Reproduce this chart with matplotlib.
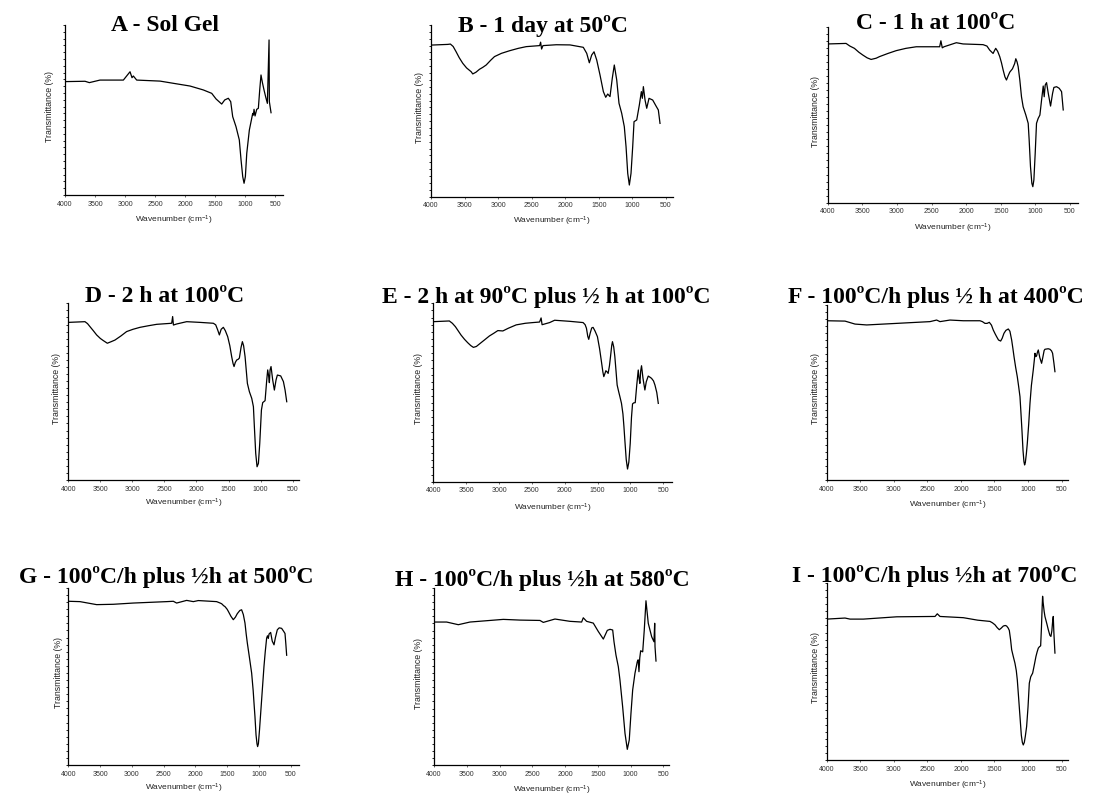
import matplotlib
matplotlib.use('Agg')
import matplotlib.pyplot as plt
from matplotlib.ticker import MultipleLocator


###############################
# Data (wavenumber, transmittance in % of axis height)
###############################
wn_a = [4000, 3667, 3595, 3418, 3029, 2918, 2885, 2863, 2807, 2419, 2197, 1920, 1699, 1559,
        1487, 1393, 1343, 1283, 1243, 1210, 1155, 1100, 1071, 1043, 1021, 999, 976, 933, 877,
        865, 855, 838, 810, 783, 760, 739, 715, 689, 660, 633, 605, 600, 572]
tr_a = [66.7, 66.9, 66.1, 67.6, 67.6, 72.5, 69.0, 70.0, 67.6, 67.0, 65.7, 64.1, 61.8, 59.8,
        56.5, 53.5, 55.9, 56.9, 54.9, 46.1, 40.2, 32.4, 20.6, 10.8, 6.9, 10.8, 24.5, 38.2, 48.0,
        47.0, 50.4, 46.5, 50.4, 51.0, 62.0, 70.6, 66.0, 61.8, 57.5, 53.9, 91.2, 54.9, 48.4]

wn_b = [4000, 3751, 3711, 3670, 3627, 3580, 3527, 3470, 3402, 3378, 3330, 3278, 3230, 3178,
        3110, 3054, 2950, 2830, 2700, 2581, 2381, 2367, 2352, 2332, 2133, 1929, 1731, 1680,
        1641, 1606, 1571, 1531, 1482, 1432, 1397, 1367, 1333, 1299, 1269, 1233, 1199, 1159,
        1120, 1094, 1069, 1045, 1020, 995, 975, 935, 896, 866, 851, 836, 811, 786, 752, 697,
        647, 613, 588]
tr_b = [88.3, 88.7, 88.9, 87.5, 84.5, 81.0, 77.7, 75.0, 72.8, 71.5, 72.5, 74.2, 75.3, 76.7,
        79.5, 81.6, 83.5, 85.0, 86.4, 87.4, 88.0, 90.0, 86.0, 88.0, 88.5, 88.4, 87.0, 83.5,
        78.0, 82.5, 84.4, 79.6, 70.9, 61.2, 57.9, 59.8, 58.3, 69.0, 76.7, 68.0, 54.4, 48.6,
        40.8, 29.1, 13.6, 6.8, 13.6, 29.1, 43.7, 44.7, 53.4, 61.2, 57.3, 64.1, 56.3, 51.5, 57.3,
        56.3, 52.8, 50.5, 42.7]

wn_c = [4000, 3735, 3680, 3614, 3550, 3493, 3430, 3373, 3300, 3252, 3130, 3010, 2870, 2721,
        2383, 2365, 2345, 2320, 2142, 2045, 1756, 1700, 1660, 1611, 1590, 1573, 1545, 1515,
        1490, 1466, 1440, 1418, 1395, 1370, 1331, 1300, 1283, 1265, 1249, 1225, 1201, 1177,
        1138, 1104, 1090, 1071, 1051, 1037, 1022, 1003, 984, 960, 935, 911, 887, 873, 858,
        839, 814, 781, 752, 733, 694, 656, 622, 598]
tr_c = [90.2, 90.5, 89.0, 87.7, 85.5, 83.9, 82.3, 81.4, 82.1, 83.0, 84.8, 86.4, 87.7, 88.6,
        88.6, 92.0, 88.0, 88.6, 90.9, 90.2, 89.8, 89.0, 86.7, 84.8, 86.5, 87.7, 86.0, 83.0,
        79.5, 75.4, 71.5, 69.7, 72.0, 74.2, 76.1, 79.0, 81.8, 80.0, 77.3, 69.7, 60.2, 54.5,
        49.8, 45.1, 35.6, 20.5, 11.0, 9.1, 12.9, 28.0, 45.1, 47.9, 49.8, 58.3, 66.3, 60.2, 66.9,
        68.2, 62.1, 54.9, 62.1, 65.5, 65.9, 65.0, 63.1, 52.7]

wn_d = [4000, 3740, 3700, 3662, 3610, 3558, 3500, 3454, 3391, 3330, 3272, 3180, 3090, 2990,
        2881, 2750, 2621, 2387, 2372, 2360, 2309, 2153, 1945, 1737, 1700, 1670, 1643, 1615,
        1581, 1550, 1513, 1480, 1451, 1430, 1414, 1395, 1373, 1350, 1331, 1305, 1284, 1265,
        1242, 1206, 1175, 1138, 1112, 1097, 1076, 1055, 1034, 1013, 987, 967, 930, 904, 889,
        873, 863, 852, 837, 811, 785, 759, 738, 686, 644, 618, 592]
tr_d = [89.2, 89.6, 88.5, 86.8, 84.5, 82.1, 80.1, 78.9, 77.4, 78.3, 79.2, 81.5, 84.0, 85.3,
        86.4, 87.3, 88.1, 88.7, 92.5, 87.7, 88.3, 89.6, 89.2, 88.7, 87.8, 85.0, 82.1, 85.3,
        86.4, 84.5, 81.1, 76.0, 69.8, 66.0, 64.2, 66.5, 67.9, 68.3, 69.0, 75.0, 78.3, 76.0,
        69.8, 54.7, 50.0, 46.2, 41.5, 30.2, 15.1, 7.5, 9.4, 20.8, 39.6, 43.8, 44.9, 56.6, 62.3,
        58.5, 55.1, 62.3, 64.2, 56.6, 50.9, 56.6, 59.4, 58.9, 55.7, 50.9, 44.3]

wn_e = [4000, 3756, 3710, 3664, 3620, 3578, 3525, 3476, 3430, 3390, 3345, 3298, 3220, 3146,
        3080, 3018, 2942, 2860, 2739, 2600, 2484, 2383, 2360, 2345, 2230, 2154, 1925, 1721,
        1690, 1670, 1650, 1635, 1615, 1590, 1569, 1540, 1503, 1470, 1442, 1420, 1406, 1390,
        1375, 1355, 1340, 1320, 1304, 1285, 1274, 1255, 1238, 1220, 1203, 1180, 1160, 1137,
        1115, 1100, 1086, 1065, 1045, 1025, 1004, 985, 969, 950, 928, 905, 882, 870, 857, 845,
        832, 810, 781, 760, 730, 700, 679, 650, 628, 600, 577]
tr_e = [89.7, 90.1, 88.8, 86.9, 84.5, 82.2, 79.8, 77.9, 76.3, 75.3, 75.8, 77.2, 79.5, 81.7,
        83.2, 84.7, 84.5, 86.0, 87.9, 88.8, 89.2, 89.5, 91.8, 88.0, 89.2, 90.5, 89.9, 89.2,
        88.0, 86.0, 81.5, 79.8, 83.0, 86.2, 86.5, 84.5, 81.3, 74.5, 67.3, 61.5, 58.9, 60.5,
        62.2, 61.5, 60.7, 65.0, 70.1, 76.5, 78.5, 75.5, 70.1, 62.0, 54.2, 50.5, 47.5, 43.9,
        38.0, 31.0, 23.4, 12.5, 7.1, 11.0, 21.5, 36.0, 43.6, 44.2, 44.3, 54.0, 62.6, 58.0, 55.1,
        62.0, 65.0, 58.0, 51.4, 56.0, 59.2, 58.5, 57.9, 56.5, 54.2, 50.0, 43.9]

wn_f = [4000, 3727, 3578, 3404, 2957, 2461, 2362, 2312, 2163, 1964, 1716, 1680, 1642, 1610,
        1577, 1545, 1518, 1490, 1468, 1440, 1408, 1385, 1359, 1330, 1294, 1270, 1244, 1225,
        1209, 1185, 1160, 1140, 1120, 1105, 1090, 1075, 1061, 1051, 1040, 1025, 1011, 990,
        971, 950, 922, 905, 897, 885, 872, 860, 847, 825, 798, 780, 760, 748, 700, 673, 650,
        634, 615, 599]
tr_f = [91.0, 90.8, 89.1, 88.6, 89.5, 90.5, 91.4, 90.5, 91.4, 91.0, 91.0, 90.5, 89.5, 89.5,
        90.1, 88.5, 85.7, 83.5, 81.9, 80.0, 79.4, 81.0, 83.8, 85.5, 86.3, 85.0, 80.0, 75.0,
        70.5, 64.5, 59.0, 53.5, 47.6, 38.0, 28.0, 17.0, 10.5, 8.6, 10.0, 15.0, 20.9, 32.0, 43.8,
        54.0, 62.9, 69.0, 72.4, 70.5, 71.0, 73.0, 74.3, 70.0, 66.7, 70.0, 74.0, 74.7, 75.0,
        74.7, 73.8, 72.4, 67.0, 61.9]

wn_g = [4000, 3816, 3554, 3292, 2977, 2452, 2347, 2295, 2137, 2032, 1954, 1665, 1610, 1586,
        1555, 1534, 1500, 1481, 1440, 1403, 1370, 1340, 1300, 1272, 1245, 1219, 1200, 1182,
        1150, 1114, 1090, 1075, 1062, 1045, 1030, 1020, 1008, 990, 972, 945, 920, 900, 878,
        865, 852, 840, 815, 790, 762, 740, 710, 680, 642, 610, 589, 575, 563]
tr_g = [92.5, 92.3, 90.6, 90.8, 91.5, 92.3, 92.5, 91.5, 93.0, 92.3, 92.9, 92.3, 91.5, 91.1,
        90.0, 89.5, 88.0, 86.8, 84.0, 82.1, 83.5, 85.5, 87.3, 87.7, 85.0, 80.2, 74.0, 68.9,
        61.0, 51.9, 42.0, 34.0, 27.4, 17.0, 12.0, 10.4, 12.0, 20.0, 29.2, 43.0, 55.7, 64.0, 71.7,
        73.0, 71.5, 74.0, 74.9, 70.0, 67.9, 72.0, 76.4, 77.5, 77.2, 75.5, 74.3, 68.0, 62.0]

wn_h = [4000, 3807, 3629, 3451, 2942, 2688, 2383, 2332, 2154, 1925, 1747, 1722, 1671, 1569,
        1493, 1416, 1355, 1314, 1273, 1253, 1223, 1187, 1162, 1121, 1085, 1050, 1020, 994, 968,
        933, 898, 884, 872, 860, 846, 815, 791, 765, 730, 678, 643, 632, 627, 612]
tr_h = [80.8, 80.8, 79.3, 80.8, 82.3, 81.9, 81.7, 80.6, 82.5, 81.2, 80.8, 83.2, 81.2, 80.2,
        75.5, 71.2, 76.1, 76.7, 76.3, 69.7, 62.2, 55.6, 48.1, 33.0, 18.0, 9.0, 14.3, 29.3, 42.5,
        51.9, 58.4, 59.5, 52.8, 60.5, 64.6, 64.0, 76.3, 92.8, 80.1, 72.5, 69.7, 80.1, 66.9, 58.8]

wn_i = [4000, 3727, 3652, 3454, 2957, 2386, 2352, 2312, 1964, 1750, 1567, 1530, 1493, 1460,
        1428, 1400, 1368, 1340, 1319, 1295, 1279, 1260, 1244, 1220, 1195, 1175, 1160, 1140,
        1120, 1100, 1085, 1071, 1055, 1040, 1021, 1000, 981, 960, 931, 905, 882, 865, 847, 830,
        812, 800, 790, 783, 775, 760, 748, 720, 698, 675, 659, 645, 634, 624, 615, 599]
tr_i = [79.6, 80.2, 79.6, 79.6, 80.9, 81.1, 82.6, 81.1, 80.4, 79.0, 78.3, 77.5, 76.4, 74.8,
        73.6, 74.5, 75.7, 76.0, 75.7, 74.5, 73.2, 68.0, 62.3, 58.5, 54.7, 50.5, 45.3, 35.0,
        24.5, 14.0, 10.0, 8.5, 10.0, 13.5, 18.9, 30.0, 43.4, 47.0, 49.1, 54.0, 58.5, 61.0, 63.2,
        64.0, 64.5, 75.0, 86.0, 92.5, 89.0, 84.0, 81.1, 77.0, 73.6, 70.5, 69.8, 73.0, 78.0,
        81.1, 72.0, 60.4]

titles = ['A - Sol Gel', 'B - 1 day at 50ºC', 'C - 1 h at 100ºC',
          'D - 2 h at 100ºC', 'E - 2 h at 90ºC plus ½ h at 100ºC', 'F - 100ºC/h plus ½ h at 400ºC',
          'G - 100ºC/h plus ½h at 500ºC', 'H - 100ºC/h plus ½h at 580ºC', 'I - 100ºC/h plus ½h at 700ºC']
x_ticks = [4000, 3500, 3000, 2500, 2000, 1500, 1000, 500]


###############################
# Layout (pixels): axes left, right, top, bottom, xlim right,
# title x, title baseline, xlabel y, ylabel offset
###############################
W, H = 1093, 796
layout = [
    (65, 282.7, 25, 195, 378, 165, 31, 220, 15),
    (431, 673.3, 25, 196.7, 390, 542.5, 31.7, 221.7, 12),
    (827.7, 1077.7, 26.7, 202.7, 389, 935.8, 29.3, 228, 12.7),
    (68.3, 299.3, 303.3, 480, 396, 165, 301.7, 503, 11.7),
    (433.3, 671.7, 303.3, 481.7, 373, 546.7, 303.3, 508, 15),
    (826.7, 1068.3, 305, 480, 400, 935.8, 303.3, 505, 11.7),
    (68.3, 299.3, 588, 765, 364, 165.8, 582.7, 788, 10),
    (434, 669.3, 588, 765.3, 409, 542.5, 586, 790, 15.7),
    (826.7, 1068.3, 583, 760, 400, 935, 581.7, 785, 11.7),
]
series = [(wn_a, tr_a), (wn_b, tr_b), (wn_c, tr_c), (wn_d, tr_d), (wn_e, tr_e),
          (wn_f, tr_f), (wn_g, tr_g), (wn_h, tr_h), (wn_i, tr_i)]


def main():
    plt.rcParams['font.family'] = ['Liberation Sans', 'DejaVu Sans']
    plt.rcParams['mathtext.default'] = 'regular'
    fig = plt.figure(figsize=(W / 100, H / 100), dpi=100)

    for (wn, tr), title, lay in zip(series, titles, layout):
        l, r, t, b, xr, tx, ty, xly, ylo = lay
        ax = fig.add_axes([l / W, 1 - b / H, (r - l) / W, (b - t) / H])
        ax.plot(wn, tr, color='black', lw=0.9)
        ax.set_xlim(4000, xr)
        ax.set_ylim(0, 100)
        ax.set_xticks(x_ticks)
        ax.tick_params(axis='x', labelsize=5, length=1.5, width=0.5, pad=2.5, colors='#333333')
        ax.yaxis.set_major_locator(MultipleLocator(4))
        ax.tick_params(axis='y', labelleft=False, length=1.5, width=0.6)
        for s in ('top', 'right'):
            ax.spines[s].set_visible(False)
        for s in ('left', 'bottom'):
            ax.spines[s].set_linewidth(0.9)

        ax.set_xlabel('Wavenumber (cm$^{-1}$)', fontsize=6, color='#222222')
        ax.xaxis.label.set_va('center')
        ax.xaxis.set_label_coords(0.5, -(xly - b) / (b - t))
        ax.set_ylabel('Transmittance (%)', fontsize=6.3, color='#222222')
        ax.yaxis.label.set_va('center')
        ax.yaxis.set_label_coords(-ylo / (r - l), 0.52)

        fig.text(tx / W, 1 - ty / H, title, ha='center', va='baseline', fontsize=17,
                 fontweight='bold', family=['Liberation Serif', 'DejaVu Serif'])

    fig.savefig('out.png', dpi=100)


if __name__ == '__main__':
    main()
